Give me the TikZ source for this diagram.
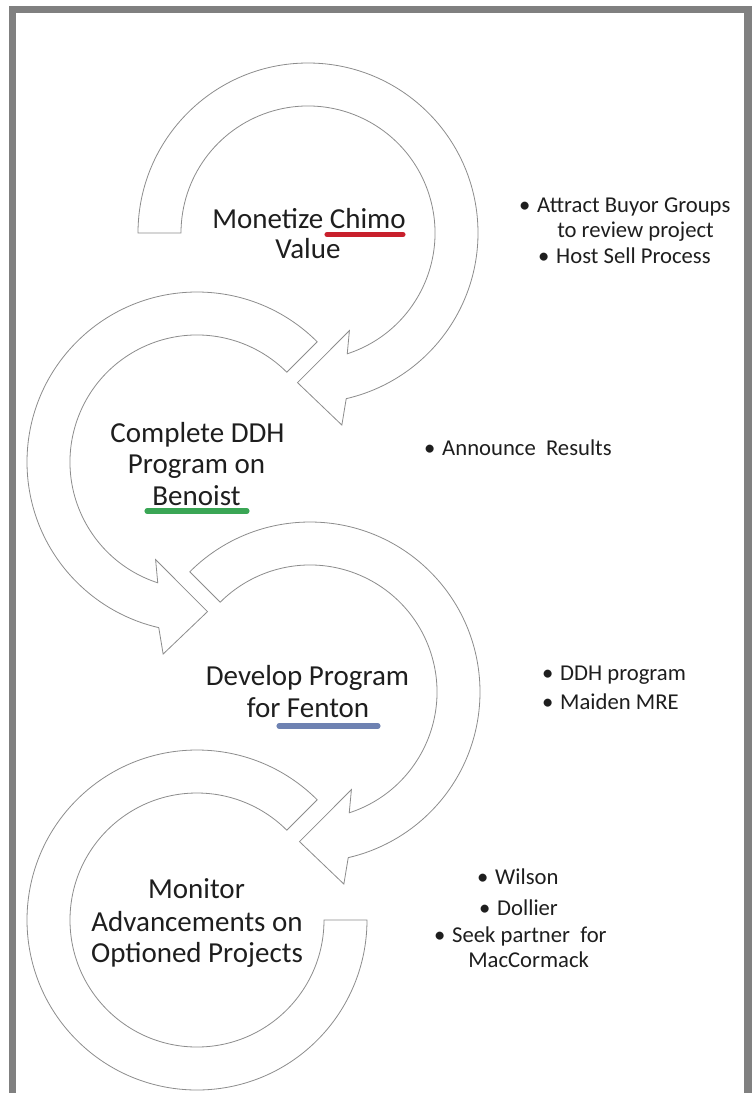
\documentclass[tikz,border=0pt]{standalone}
\usepackage{fontspec}
\setmainfont{Carlito}
\definecolor{framegray}{RGB}{128,128,128}
\definecolor{bandline}{RGB}{140,140,140}
\definecolor{txt}{RGB}{30,30,30}
\definecolor{chimored}{RGB}{200,32,44}
\definecolor{benoistgreen}{RGB}{58,166,85}
\definecolor{fentonblue}{RGB}{110,130,178}
\begin{document}
\begin{tikzpicture}[x=0.75pt,y=0.75pt,
  band/.style={draw=bandline, fill=white, line width=0.6pt, line join=miter},
  mainlbl/.style={inner sep=0pt, anchor=base, text=txt, font=\fontsize{21.75}{26}\selectfont},
  bul/.style={inner sep=0pt, anchor=base west, text=txt, font=\fontsize{17}{20}\selectfont},
  uline/.style={line width=3.8pt, line cap=round}]
\useasboundingbox (0,0) rectangle (752,-1093);
\clip (0,0) rectangle (752,-1093);
% frame
\draw[framegray, line width=5.5pt] (12.5,-1120) -- (12.5,-9.5) -- (748,-9.5) -- (748,-1120);
% centres of the circular arrows
\coordinate (c1) at (308,-233);
\coordinate (c2) at (197,-462);
\coordinate (c3) at (310,-692);
\coordinate (c4) at (197,-920);
% arrow 1 (clockwise)
\draw[band] ([shift={(180:170)}]c1) arc[start angle=180, end angle=-77, radius=170]
  -- ([shift={(-80:195)}]c1) -- ([shift={(-94:150)}]c1) -- ([shift={(-67:106)}]c1)
  -- ([shift={(-72:127)}]c1) arc[start angle=-72, end angle=180, radius=127] -- cycle;
% arrow 2 (counter-clockwise)
\draw[band] ([shift={(45:170)}]c2) arc[start angle=45, end angle=257, radius=170]
  -- ([shift={(260:195)}]c2) -- ([shift={(274:150)}]c2) -- ([shift={(247:106)}]c2)
  -- ([shift={(252:127)}]c2) arc[start angle=252, end angle=45, radius=127] -- cycle;
% arrow 3 (clockwise)
\draw[band] ([shift={(135:170)}]c3) arc[start angle=135, end angle=-77, radius=170]
  -- ([shift={(-80:195)}]c3) -- ([shift={(-94:150)}]c3) -- ([shift={(-67:106)}]c3)
  -- ([shift={(-72:127)}]c3) arc[start angle=-72, end angle=135, radius=127] -- cycle;
% arrow 4 (counter-clockwise, no head)
\draw[band] ([shift={(45:170)}]c4) arc[start angle=45, end angle=360, radius=170]
  -- ([shift={(0:127)}]c4) arc[start angle=360, end angle=45, radius=127] -- cycle;
% main labels
\node[mainlbl] (t1a) at (309,-228) {Monetize Chimo};
\node[mainlbl] (t1b) at (308,-258) {Value};
\node[mainlbl] (t2a) at (197.5,-442) {Complete DDH};
\node[mainlbl] (t2b) at (196.5,-473) {Program on};
\node[mainlbl] (t2c) at (196.5,-505) {Benoist};
\node[mainlbl] (t3a) at (307.5,-685) {Develop Program};
\node[mainlbl] (t3b) at (308,-717) {for Fenton};
\node[mainlbl] (t4a) at (196.5,-898) {Monitor};
\node[mainlbl] (t4b) at (197,-931) {Advancements on};
\node[mainlbl] (t4c) at (197,-962) {Optioned Projects};
% underlines
\draw[uline, chimored] (327,-234.5) -- (403,-234.5);
\draw[uline, benoistgreen] (147,-511) -- (247,-511);
\draw[uline, fentonblue] (279,-726) -- (378,-726);
% bullet texts
\node[bul] (b1a) at (537,-212) {\llap{\textbullet\hspace{0.3em}}Attract Buyor Groups};
\node[bul] (b1b) at (557,-237) {to review project};
\node[bul] (b1c) at (556,-263) {\llap{\textbullet\hspace{0.3em}}Host Sell Process};
\node[bul] (b2) at (442,-455) {\llap{\textbullet\hspace{0.3em}}Announce~ Results};
\node[bul] (b3a) at (560,-680) {\llap{\textbullet\hspace{0.3em}}DDH program};
\node[bul] (b3b) at (560,-709) {\llap{\textbullet\hspace{0.3em}}Maiden MRE};
\node[bul] (b4a) at (495,-884) {\llap{\textbullet\hspace{0.3em}}Wilson};
\node[bul] (b4b) at (497,-915) {\llap{\textbullet\hspace{0.3em}}Dollier};
\node[bul] (b4c) at (452,-942) {\llap{\textbullet\hspace{0.3em}}Seek partner~ for};
\node[bul] (b4d) at (468,-967) {MacCormack};
\end{tikzpicture}
\end{document}
